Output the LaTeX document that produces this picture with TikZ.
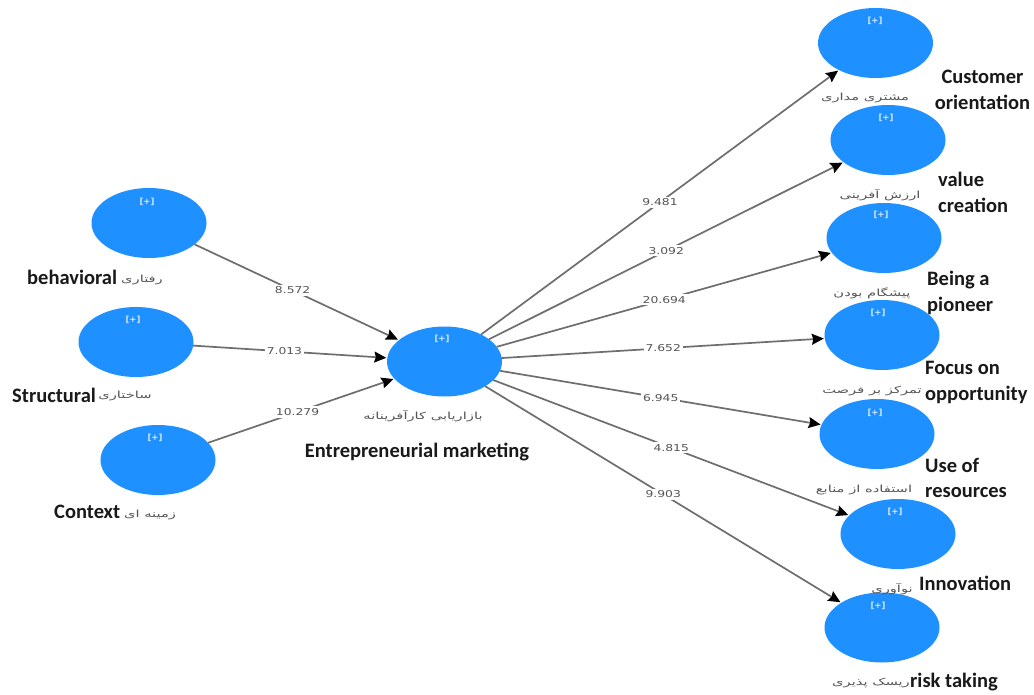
\documentclass[tikz,border=0pt]{standalone}
\usepackage{fontspec}
\setmainfont{Carlito}
\newfontfamily\arabicfont[Script=Arabic,FakeStretch=1.5]{DejaVu Sans}
\newfontfamily\numfont[FakeStretch=1.3]{DejaVu Sans}
\newfontfamily\plusfont{DejaVu Sans}
\TeXXeTstate=1
\usetikzlibrary{arrows.meta,shapes.geometric}
\definecolor{lvblue}{HTML}{1E90FF}
\definecolor{linegrey}{HTML}{6E6E6E}
\definecolor{txtgrey}{HTML}{555555}
\tikzset{
  latent/.style={ellipse,fill=lvblue,minimum width=115pt,minimum height=70pt,inner sep=0pt,outer sep=0pt},
  plus/.style={font=\plusfont\fontsize{8.5}{9}\selectfont\bfseries,text=white!80!lvblue,inner sep=0pt},
  conn/.style={draw=linegrey,line width=1.7pt,-{Stealth[black,length=12pt,width=11pt,inset=1.5pt]},shorten >=1pt,shorten <=0pt},
  val/.style={font=\numfont\fontsize{9.5}{11}\selectfont,text=txtgrey,fill=white,inner sep=2pt},
  en/.style={font=\fontsize{20.5}{25.5}\selectfont\bfseries,text=black!90,inner sep=0pt,align=left},
  fa/.style={font=\arabicfont\fontsize{9.8}{11}\selectfont,text=txtgrey,inner sep=0pt}
}
\newcommand{\fatext}[1]{\beginR #1\endR}
\begin{document}
\begin{tikzpicture}[x=1pt,y=-1pt]
\useasboundingbox (0,0) rectangle (1034,695);
\fill[white] (0,0) rectangle (1034,695);
% latent variables
\node[latent] (beh) at (149,223) {};
\node[latent] (str) at (136,342) {};
\node[latent] (con) at (158,460) {};
\node[latent] (ent) at (444.5,361.5) {};
\node[latent] (cus) at (875.5,43) {};
\node[latent] (vcr) at (888,140) {};
\node[latent] (pio) at (884,238) {};
\node[latent] (foc) at (882,335) {};
\node[latent] (res) at (877,434) {};
\node[latent] (inn) at (898,534) {};
\node[latent] (ris) at (882,627.5) {};
% [+] marks
\node[plus] (pbeh) at (147,202) {[+]};
\node[plus] (pstr) at (133,320) {[+]};
\node[plus] (pcon) at (155,438) {[+]};
\node[plus] (pent) at (442,339) {[+]};
\node[plus] (pcus) at (875,21) {[+]};
\node[plus] (pvcr) at (886,118) {[+]};
\node[plus] (ppio) at (881,215) {[+]};
\node[plus] (pfoc) at (878,313) {[+]};
\node[plus] (pres) at (875,413) {[+]};
\node[plus] (pinn) at (895,512) {[+]};
\node[plus] (pris) at (878,606) {[+]};
% connectors
\draw[conn] (beh) -- node[val,pos=.48] (v1) {8.572} (ent);
\draw[conn] (str) -- node[val,pos=.47] (v2) {7.013} (ent);
\draw[conn] (con) -- node[val,pos=.48] (v3) {10.279} (ent);
\draw[conn] (ent) -- node[val,pos=.5] (v4) {9.481} (cus);
\draw[conn] (ent) -- node[val,pos=.5] (v5) {3.092} (vcr);
\draw[conn] (ent) -- node[val,pos=.5] (v6) {20.694} (pio);
\draw[conn] (ent) -- node[val,pos=.5] (v7) {7.652} (foc);
\draw[conn] (ent) -- node[val,pos=.5] (v8) {6.945} (res);
\draw[conn] (ent) -- node[val,pos=.5] (v9) {4.815} (inn);
\draw[conn] (ent) -- node[val,pos=.5] (v10) {9.903} (ris);
% Persian labels
\node[fa] (fbeh) at (142,280) {\fatext{رفتاری}};
\node[fa] (fstr) at (125,396) {\fatext{ساختاری}};
\node[fa] (fcon) at (150,515) {\fatext{زمینه ای}};
\node[fa] (fent) at (423,416) {\fatext{بازاریابی کارآفرینانه}};
\node[fa] (fcus) at (865,98) {\fatext{مشتری مداری}};
\node[fa] (fvcr) at (880,195) {\fatext{ارزش آفرینی}};
\node[fa] (fpio) at (872,293) {\fatext{پیشگام بودن}};
\node[fa] (ffoc) at (872,391) {\fatext{تمرکز بر فرصت}};
\node[fa] (fres) at (864,490) {\fatext{استفاده از منابع}};
\node[fa] (finn) at (892,589) {\fatext{نوآوری}};
\node[fa] (fris) at (871,683) {\fatext{ریسک پذیری}};
% English labels
\node[en,anchor=west] (ebeh) at (27,277) {behavioral};
\node[en,anchor=west] (estr) at (12,395) {Structural};
\node[en,anchor=west] (econ) at (54,512) {Context};
\node[en] (eent) at (417,452) {Entrepreneurial marketing};
\node[en,align=center] (ecus) at (982.5,90) {Customer\\orientation};
\node[en,anchor=west] (evcr) at (938,192.5) {value\\creation};
\node[en,anchor=west] (epio) at (927,293) {Being a\\pioneer};
\node[en,anchor=west] (efoc) at (925,382.5) {Focus on\\opportunity};
\node[en,anchor=west] (eres) at (925,478) {Use of\\resources};
\node[en,anchor=west] (einn) at (919,583) {Innovation};
\node[en,anchor=west] (eris) at (910,682) {risk taking};
\end{tikzpicture}
\end{document}
